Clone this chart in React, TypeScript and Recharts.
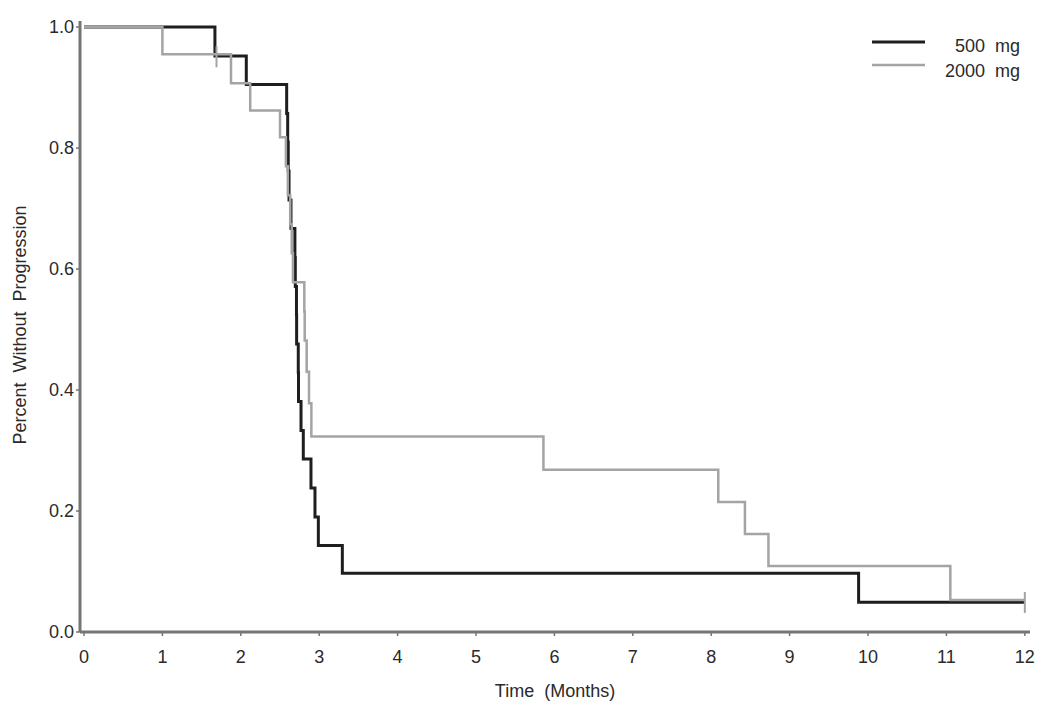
import React from "react";
import { ComposedChart, Line, Scatter, XAxis, YAxis, Legend } from "recharts";

// Kaplan-Meier step curves (time in months, survival proportion)
const time500 = [0, 1.67, 2.07, 2.585, 2.598, 2.605, 2.615, 2.64, 2.69, 2.695, 2.71, 2.712, 2.733, 2.736, 2.768, 2.797, 2.895, 2.946, 2.989, 3.295, 9.88, 12];
const surv500 = [1.0, 0.952, 0.905, 0.857, 0.81, 0.762, 0.714, 0.667, 0.619, 0.571, 0.524, 0.476, 0.429, 0.381, 0.333, 0.286, 0.238, 0.19, 0.143, 0.097, 0.049, 0.049];

const time2000 = [0, 1.0, 1.875, 2.12, 2.5, 2.575, 2.6, 2.63, 2.65, 2.665, 2.81, 2.815, 2.84, 2.87, 2.9, 5.86, 8.09, 8.43, 8.73, 11.05, 12];
const surv2000 = [1.0, 0.955, 0.907, 0.862, 0.818, 0.77, 0.722, 0.674, 0.626, 0.578, 0.53, 0.482, 0.43, 0.378, 0.323, 0.268, 0.215, 0.162, 0.109, 0.053, 0.053];

// censored observations (2000 mg)
const censorTime2000 = [1.69, 12];
const censorSurv2000 = [0.955, 0.053];

const seriesNames = ["500  mg", "2000  mg"];
const xTicks = [0, 1, 2, 3, 4, 5, 6, 7, 8, 9, 10, 11, 12];
const yTicks = [0, 0.2, 0.4, 0.6, 0.8, 1.0];

const series500 = time500.map((t, i) => ({ t, s: surv500[i] }));
const series2000 = time2000.map((t, i) => ({ t, s: surv2000[i] }));
const censor2000 = censorTime2000.map((t, i) => ({ t, s: censorSurv2000[i] }));

const FONT = "'Liberation Sans', Arial, Helvetica, sans-serif";
const TEXT = "#2a2a2a";
const AXIS = "#757575";
const BLACK = "#1e1e1e";
const GRAY = "#a4a4a4";

const CensorTick = (props: any) => {
  const { cx, cy } = props;
  if (cx == null || cy == null) return null;
  return <line x1={cx} x2={cx} y1={cy - 8} y2={cy + 13} stroke={GRAY} strokeWidth={2} />;
};

const renderLegend = (props: any) => {
  const items = (props.payload || [])
    .filter((p: any) => p.type !== "none" && seriesNames.includes(p.value))
    .sort((a: any, b: any) => seriesNames.indexOf(a.value) - seriesNames.indexOf(b.value));
  return (
    <svg width={200} height={90} style={{ display: "block" }}>
      {items.map((p: any, i: number) => (
        <g key={i}>
          <line
            x1={22}
            x2={75}
            y1={42 + i * 23}
            y2={42 + i * 23}
            stroke={p.color}
            strokeWidth={i === 0 ? 3 : 2.5}
          />
          <text
            x={170}
            y={52 + i * 25}
            textAnchor="end"
            fontFamily={FONT}
            fontSize={18}
            fill={TEXT}
            style={{ whiteSpace: "pre" }}
          >
            {p.value}
          </text>
        </g>
      ))}
    </svg>
  );
};

export default function App() {
  return (
    <div style={{ position: "absolute", left: 0, top: 0, width: 1050, height: 714, background: "#fff" }}>
      <ComposedChart
        width={1050}
        height={714}
        margin={{ top: 21, right: 20, bottom: 32, left: 0 }}
      >
        <XAxis
          dataKey="t"
          type="number"
          domain={[-0.051, 12.066]}
          ticks={xTicks}
          allowDataOverflow
          height={50}
          axisLine={{ stroke: AXIS, strokeWidth: 3 }}
          tickLine={{ stroke: AXIS, strokeWidth: 1.5 }}
          tickSize={4}
          tickMargin={14}
          tick={{ fontSize: 18, fill: TEXT, fontFamily: FONT }}
          label={{
            content: (p: any) => {
              const vb = p.viewBox || {};
              return (
                <text
                  x={vb.x + vb.width / 2}
                  y={697}
                  textAnchor="middle"
                  fontFamily={FONT}
                  fontSize={18}
                  fill={TEXT}
                  style={{ whiteSpace: "pre" }}
                >
                  {"Time  (Months)"}
                </text>
              );
            },
          }}
        />
        <YAxis
          type="number"
          domain={[0, 1.01]}
          ticks={yTicks}
          allowDataOverflow
          width={80}
          axisLine={{ stroke: AXIS, strokeWidth: 3 }}
          tickLine={{ stroke: AXIS, strokeWidth: 1.5 }}
          tickSize={4}
          tickMargin={2}
          tickFormatter={(v: number) => v.toFixed(1)}
          tick={{ fontSize: 18, fill: TEXT, fontFamily: FONT }}
          label={{
            content: () => (
              <text
                x={26}
                y={325}
                transform="rotate(-90 26 325)"
                textAnchor="middle"
                fontFamily={FONT}
                fontSize={18}
                fill={TEXT}
                style={{ whiteSpace: "pre" }}
              >
                {"Percent  Without  Progression"}
              </text>
            ),
          }}
        />
        <Legend
          layout="vertical"
          align="center"
          verticalAlign="middle"
          content={renderLegend}
          wrapperStyle={{ top: 0, left: 850, right: "auto", bottom: "auto", width: 200, height: 90 }}
        />
        <Line
          data={series500}
          dataKey="s"
          name={seriesNames[0]}
          type="stepAfter"
          stroke={BLACK}
          strokeWidth={3}
          dot={false}
          activeDot={false}
          isAnimationActive={false}
        />
        <Line
          data={series2000}
          dataKey="s"
          name={seriesNames[1]}
          type="stepAfter"
          stroke={GRAY}
          strokeWidth={2.5}
          dot={false}
          activeDot={false}
          isAnimationActive={false}
        />
        <Scatter
          data={censor2000}
          dataKey="s"
          legendType="none"
          shape={<CensorTick />}
          isAnimationActive={false}
        />
      </ComposedChart>
    </div>
  );
}
